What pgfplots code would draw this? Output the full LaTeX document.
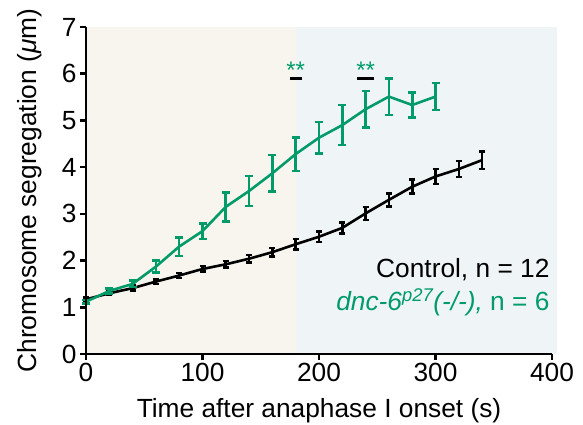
\documentclass[border=0pt]{standalone}
\usepackage{fontspec}
\setmainfont{Liberation Sans}
\usepackage{pgfplots}
\usepackage{pgfplotstable}
\pgfplotsset{compat=1.18}
\definecolor{grn}{RGB}{0,155,105}
\definecolor{bgA}{RGB}{248,245,238}
\definecolor{bgB}{RGB}{239,244,247}

\pgfplotstableread{
t m e
0 1.17 0.04
20 1.30 0.04
40 1.41 0.05
60 1.55 0.05
80 1.68 0.05
100 1.82 0.06
120 1.92 0.07
140 2.04 0.08
160 2.18 0.09
180 2.35 0.11
200 2.51 0.11
220 2.70 0.12
240 3.01 0.14
260 3.30 0.14
280 3.58 0.15
300 3.80 0.16
320 3.96 0.17
340 4.15 0.19
}\ctrl

\pgfplotstableread{
t m e
0 1.12 0.04
20 1.35 0.05
40 1.50 0.07
60 1.87 0.13
80 2.30 0.20
100 2.63 0.17
120 3.15 0.31
140 3.49 0.32
160 3.87 0.39
180 4.28 0.36
200 4.63 0.34
220 4.90 0.43
240 5.24 0.39
260 5.51 0.39
280 5.33 0.27
300 5.51 0.29
}\mut

\begin{document}
\begin{tikzpicture}
\begin{axis}[name=ax, scale only axis, width=466pt, height=327pt,
 xmin=0,xmax=400,ymin=0,ymax=7,
 axis lines=left, axis line style={-, line width=2.6pt},
 xtick={0,100,...,400}, ytick={0,...,7},
 tick align=outside, major tick length=6pt, tick style={line width=2.6pt, black},
 /pgf/number format/assume math mode=true,
 ticklabel style={font=\fontsize{26.3}{30}\selectfont},
 label style={font=\fontsize{26.3}{30}\selectfont},
 xlabel={Time after anaphase I onset (s)},
 ylabel={Chromosome segregation (\textit{μ}m)},
 xlabel style={at={(axis description cs:0.5,0)}, anchor=base, yshift=-63pt},
 ylabel style={at={(axis description cs:-0.12,0.5)}, anchor=center},
 clip=false, axis on top,
]
\addplot[draw=none, fill=bgA, forget plot] coordinates {(0,0)(180,0)(180,7)(0,7)} -- cycle;
\addplot[draw=none, fill=bgB, forget plot] coordinates {(180,0)(404,0)(404,7)(180,7)} -- cycle;

\addplot[black, line width=2.6pt, error bars/.cd, y dir=both, y explicit,
  error bar style={line width=2.6pt, black},
  error mark options={black, rotate=90, mark size=3pt, line width=2.6pt}]
  table[x=t, y=m, y error=e] {\ctrl};
\addplot[grn, line width=2.6pt, error bars/.cd, y dir=both, y explicit,
  error bar style={line width=2.6pt, grn},
  error mark options={grn, rotate=90, mark size=4pt, line width=2.6pt}]
  table[x=t, y=m, y error=e] {\mut};

\addplot[black, line width=2.8pt] coordinates {(175,5.89)(185,5.89)};
\addplot[black, line width=2.8pt] coordinates {(232.5,5.89)(247.5,5.89)};
\node[grn, anchor=base, font=\fontsize{24}{28}\selectfont] at (axis cs:180,5.90) {**};
\node[grn, anchor=base, font=\fontsize{24}{28}\selectfont] at (axis cs:240,5.90) {**};

\node[anchor=base east, font=\fontsize{26.3}{30}\selectfont, inner sep=0pt] at (axis cs:398,1.63) {Control, n = 12};
\node[anchor=base east, grn, font=\fontsize{26.3}{30}\selectfont, inner sep=0pt] at (axis cs:398,0.94) {\textit{dnc-6\textsuperscript{p27}(-/-),} n = 6};
\end{axis}
\pgfresetboundingbox
\path ([xshift=-86pt,yshift=-71pt]ax.south west) rectangle ([xshift=31pt,yshift=27pt]ax.north east);
\end{tikzpicture}
\end{document}
